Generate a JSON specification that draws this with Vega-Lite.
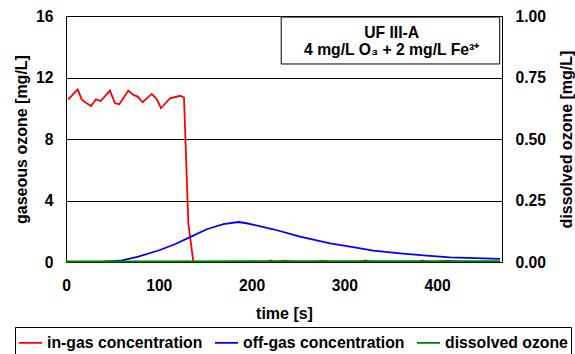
{
  "$schema": "https://vega.github.io/schema/vega-lite/v6.json",
  "width": 436,
  "height": 246,
  "autosize": {"type": "none"},
  "padding": {"left": 66, "top": 16, "right": 73, "bottom": 92},
  "background": "white",
  "config": {
    "font": "Liberation Sans",
    "view": {"stroke": "black", "strokeWidth": 1},
    "axis": {"labelFontWeight": "bold", "titleFontWeight": "bold", "labelColor": "black", "titleColor": "black", "ticks": false, "domain": false, "labelFontSize": 15.7, "titleFontSize": 16},
    "legend": {
      "orient": "none", "legendX": -51, "legendY": 311, "direction": "horizontal",
      "strokeColor": "black", "fillColor": "white", "padding": 3,
      "symbolType": "stroke", "symbolSize": 529, "symbolStrokeWidth": 1.8,
      "labelFontSize": 15.8, "labelFontWeight": "bold", "labelColor": "black",
      "labelOffset": 4, "columnPadding": 8, "labelLimit": 0
    }
  },
  "datasets": {
    "gas": [
      {"t": 2.5, "v": 10.58, "series": "in-gas concentration"},
      {"t": 12.6, "v": 11.23, "series": "in-gas concentration"},
      {"t": 16.9, "v": 10.58, "series": "in-gas concentration"},
      {"t": 22.3, "v": 10.32, "series": "in-gas concentration"},
      {"t": 27.0, "v": 10.15, "series": "in-gas concentration"},
      {"t": 32.3, "v": 10.58, "series": "in-gas concentration"},
      {"t": 37.4, "v": 10.47, "series": "in-gas concentration"},
      {"t": 47.4, "v": 11.15, "series": "in-gas concentration"},
      {"t": 52.8, "v": 10.32, "series": "in-gas concentration"},
      {"t": 57.5, "v": 10.26, "series": "in-gas concentration"},
      {"t": 67.2, "v": 11.15, "series": "in-gas concentration"},
      {"t": 72.6, "v": 10.87, "series": "in-gas concentration"},
      {"t": 77.3, "v": 10.76, "series": "in-gas concentration"},
      {"t": 82.7, "v": 10.39, "series": "in-gas concentration"},
      {"t": 92.4, "v": 10.93, "series": "in-gas concentration"},
      {"t": 97.8, "v": 10.6, "series": "in-gas concentration"},
      {"t": 102.4, "v": 10.0, "series": "in-gas concentration"},
      {"t": 112.1, "v": 10.65, "series": "in-gas concentration"},
      {"t": 122.9, "v": 10.81, "series": "in-gas concentration"},
      {"t": 127.2, "v": 10.7, "series": "in-gas concentration"},
      {"t": 131.9, "v": 2.5, "series": "in-gas concentration"},
      {"t": 137.3, "v": 0.0, "series": "in-gas concentration"},
      {"t": 145, "v": -0.03, "series": "in-gas concentration"},
      {"t": 155, "v": 0.0, "series": "in-gas concentration"},
      {"t": 165, "v": -0.05, "series": "in-gas concentration"},
      {"t": 175, "v": 0.0, "series": "in-gas concentration"},
      {"t": 185, "v": -0.03, "series": "in-gas concentration"},
      {"t": 195, "v": 0.0, "series": "in-gas concentration"},
      {"t": 205, "v": 0.02, "series": "in-gas concentration"},
      {"t": 215, "v": -0.03, "series": "in-gas concentration"},
      {"t": 221, "v": 0.1, "series": "in-gas concentration"},
      {"t": 226, "v": -0.03, "series": "in-gas concentration"},
      {"t": 236, "v": 0.08, "series": "in-gas concentration"},
      {"t": 245, "v": 0.0, "series": "in-gas concentration"},
      {"t": 255, "v": 0.0, "series": "in-gas concentration"},
      {"t": 265, "v": -0.03, "series": "in-gas concentration"},
      {"t": 276, "v": 0.07, "series": "in-gas concentration"},
      {"t": 285, "v": 0.0, "series": "in-gas concentration"},
      {"t": 295, "v": -0.04, "series": "in-gas concentration"},
      {"t": 305, "v": 0.0, "series": "in-gas concentration"},
      {"t": 315, "v": 0.0, "series": "in-gas concentration"},
      {"t": 323, "v": 0.1, "series": "in-gas concentration"},
      {"t": 330, "v": -0.03, "series": "in-gas concentration"},
      {"t": 340, "v": 0.0, "series": "in-gas concentration"},
      {"t": 350, "v": -0.04, "series": "in-gas concentration"},
      {"t": 360, "v": 0.0, "series": "in-gas concentration"},
      {"t": 370, "v": -0.03, "series": "in-gas concentration"},
      {"t": 380, "v": 0.0, "series": "in-gas concentration"},
      {"t": 384, "v": 0.1, "series": "in-gas concentration"},
      {"t": 390, "v": -0.03, "series": "in-gas concentration"},
      {"t": 400, "v": 0.0, "series": "in-gas concentration"},
      {"t": 410, "v": 0.08, "series": "in-gas concentration"},
      {"t": 416, "v": 0.06, "series": "in-gas concentration"},
      {"t": 425, "v": -0.03, "series": "in-gas concentration"},
      {"t": 435, "v": 0.0, "series": "in-gas concentration"},
      {"t": 445, "v": -0.04, "series": "in-gas concentration"},
      {"t": 455, "v": -0.04, "series": "in-gas concentration"},
      {"t": 468, "v": 0.0, "series": "in-gas concentration"},
      {"t": 0, "v": 0.0, "series": "off-gas concentration"},
      {"t": 20, "v": 0.0, "series": "off-gas concentration"},
      {"t": 40, "v": 0.02, "series": "off-gas concentration"},
      {"t": 58.2, "v": 0.08, "series": "off-gas concentration"},
      {"t": 78, "v": 0.35, "series": "off-gas concentration"},
      {"t": 101.3, "v": 0.78, "series": "off-gas concentration"},
      {"t": 118, "v": 1.17, "series": "off-gas concentration"},
      {"t": 133.7, "v": 1.62, "series": "off-gas concentration"},
      {"t": 151.7, "v": 2.13, "series": "off-gas concentration"},
      {"t": 169.6, "v": 2.47, "series": "off-gas concentration"},
      {"t": 185.8, "v": 2.6, "series": "off-gas concentration"},
      {"t": 194.8, "v": 2.52, "series": "off-gas concentration"},
      {"t": 223.5, "v": 2.13, "series": "off-gas concentration"},
      {"t": 252.3, "v": 1.65, "series": "off-gas concentration"},
      {"t": 284.6, "v": 1.21, "series": "off-gas concentration"},
      {"t": 306.2, "v": 1.0, "series": "off-gas concentration"},
      {"t": 331.3, "v": 0.74, "series": "off-gas concentration"},
      {"t": 360.1, "v": 0.56, "series": "off-gas concentration"},
      {"t": 388.9, "v": 0.41, "series": "off-gas concentration"},
      {"t": 414, "v": 0.3, "series": "off-gas concentration"},
      {"t": 468, "v": 0.2, "series": "off-gas concentration"}
    ],
    "dis": [
      {"t": 0, "v": 0.002, "series": "dissolved ozone"},
      {"t": 100, "v": 0.002, "series": "dissolved ozone"},
      {"t": 200, "v": 0.003, "series": "dissolved ozone"},
      {"t": 300, "v": 0.003, "series": "dissolved ozone"},
      {"t": 400, "v": 0.003, "series": "dissolved ozone"},
      {"t": 468, "v": 0.003, "series": "dissolved ozone"}
    ],
    "box": [
      {"x1": 232, "x2": 467.5, "y1": 12.88, "y2": 15.93}
    ],
    "notes": [
      {"t": 351, "v": 14.9, "label": "UF III-A"},
      {"t": 351, "v": 13.8, "label": "4 mg/L O₃ + 2 mg/L Fe³⁺"}
    ]
  },
  "layer": [
    {
      "layer": [
        {
          "data": {"name": "gas"},
          "mark": {"type": "line", "strokeWidth": 1.8, "clip": true},
          "encoding": {
            "x": {"field": "t", "type": "quantitative", "scale": {"domain": [0, 470], "nice": false, "zero": false},
                  "axis": {"values": [0, 100, 200, 300, 400], "title": "time [s]", "grid": false, "labelPadding": 16, "titlePadding": 13, "labelFlush": false}},
            "y": {"field": "v", "type": "quantitative", "scale": {"domain": [0, 16], "nice": false},
                  "axis": {"values": [0, 4, 8, 12, 16], "title": "gaseous ozone [mg/L]", "orient": "left", "grid": true, "gridColor": "black", "gridOpacity": 1, "gridWidth": 1, "labelPadding": 13, "titlePadding": 6}},
            "color": {"field": "series", "type": "nominal",
                      "scale": {"domain": ["in-gas concentration", "off-gas concentration", "dissolved ozone"], "range": ["#ff0000", "#0000ff", "#008000"]},
                      "legend": {"title": null}},
            "detail": {"field": "series"}
          }
        },
        {
          "data": {"name": "box"},
          "mark": {"type": "rect", "fill": "white", "stroke": "black", "strokeWidth": 1},
          "encoding": {
            "x": {"field": "x1", "type": "quantitative"},
            "x2": {"field": "x2"},
            "y": {"field": "y1", "type": "quantitative"},
            "y2": {"field": "y2"}
          }
        },
        {
          "data": {"name": "notes"},
          "mark": {"type": "text", "fontSize": 15.7, "fontWeight": "bold", "color": "black", "align": "center", "baseline": "middle"},
          "encoding": {
            "x": {"field": "t", "type": "quantitative"},
            "y": {"field": "v", "type": "quantitative"},
            "text": {"field": "label"}
          }
        }
      ]
    },
    {
      "data": {"name": "dis"},
      "mark": {"type": "line", "strokeWidth": 1.8},
      "encoding": {
        "x": {"field": "t", "type": "quantitative"},
        "y": {"field": "v", "type": "quantitative", "scale": {"domain": [0, 1], "nice": false},
              "axis": {"values": [0, 0.25, 0.5, 0.75, 1], "format": ".2f", "title": "dissolved ozone [mg/L]", "orient": "right", "grid": false, "labelPadding": 13, "titlePadding": 13, "titleAngle": 270, "titleBaseline": "top"}},
        "color": {"field": "series", "type": "nominal",
                  "scale": {"domain": ["in-gas concentration", "off-gas concentration", "dissolved ozone"], "range": ["#ff0000", "#0000ff", "#008000"]},
                  "legend": {"title": null}}
      }
    }
  ],
  "resolve": {"scale": {"y": "independent"}}
}
